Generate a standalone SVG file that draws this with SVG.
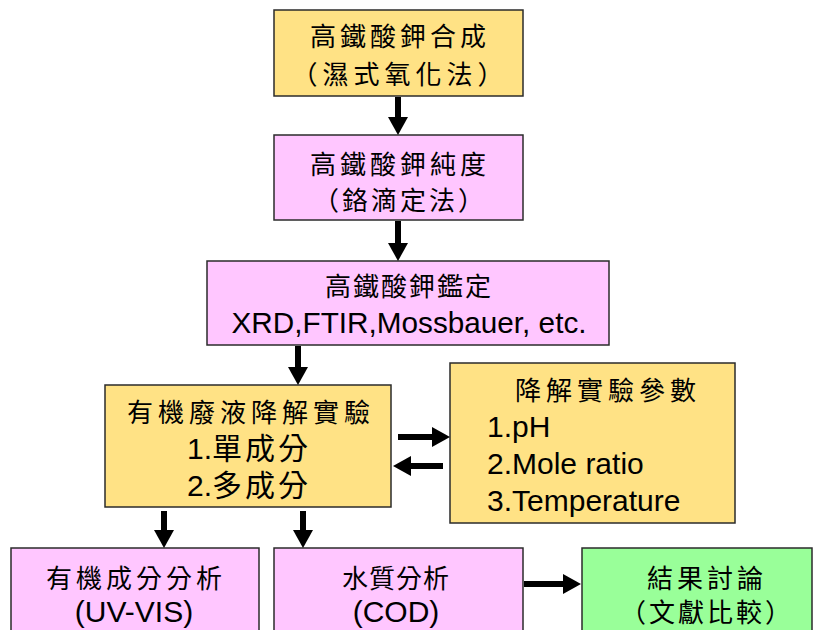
<svg xmlns="http://www.w3.org/2000/svg" width="822" height="630" viewBox="0 0 822 630">
  <style>
    .box { stroke: #2b2b2b; stroke-width: 1.5; }
    .yellow { fill: #FFE285; }
    .pink { fill: #FFC6FF; }
    .green { fill: #99FF99; }
    .cjk { font-family: "Noto Sans CJK TC", "Noto Sans CJK SC", sans-serif; font-size: 26px; fill: #000; text-anchor: middle; }
    .lat { font-family: "Liberation Sans", "Noto Sans CJK TC", sans-serif; font-size: 30px; fill: #000; }
    .mid { text-anchor: middle; }
    .arrow { stroke: #000; stroke-width: 6; fill: none; }
  </style>
  <defs>
    <marker id="head" markerUnits="userSpaceOnUse" markerWidth="18" markerHeight="20" refX="0" refY="10" orient="auto">
      <path d="M0,0 L18,10 L0,20 z" fill="#000"/>
    </marker>
  </defs>

  <rect width="822" height="630" fill="#fff"/>

  <g id="synthesis">
    <rect class="box yellow" x="274" y="10" width="249" height="86"/>
    <text class="cjk" x="400" y="46" letter-spacing="4">高鐵酸鉀合成</text>
    <text class="cjk" x="400" y="84" letter-spacing="5">（濕式氧化法）</text>
  </g>

  <g id="purity">
    <rect class="box pink" x="274" y="135" width="249" height="85"/>
    <text class="cjk" x="400" y="174" letter-spacing="4">高鐵酸鉀純度</text>
    <text class="cjk" x="400" y="210" letter-spacing="3">（鉻滴定法）</text>
  </g>

  <g id="identification">
    <rect class="box pink" x="207" y="261" width="402" height="84"/>
    <text class="cjk" x="409" y="296" font-size="25" letter-spacing="2">高鐵酸鉀鑑定</text>
    <text class="lat mid" x="409" y="333" textLength="355" lengthAdjust="spacingAndGlyphs">XRD,FTIR,Mossbauer, etc.</text>
  </g>

  <g id="degradation">
    <rect class="box yellow" x="105" y="385" width="286" height="122"/>
    <text class="cjk" x="251" y="422" letter-spacing="5">有機廢液降解實驗</text>
    <text class="lat mid" x="249" y="459"><tspan>1.</tspan><tspan letter-spacing="3">單成分</tspan></text>
    <text class="lat mid" x="249" y="496"><tspan>2.</tspan><tspan letter-spacing="3">多成分</tspan></text>
  </g>

  <g id="parameters">
    <rect class="box yellow" x="450" y="363" width="285" height="160"/>
    <text class="cjk" x="608" y="400" letter-spacing="5">降解實驗參數</text>
    <text class="lat" x="487" y="437">1.pH</text>
    <text class="lat" x="487" y="474">2.Mole ratio</text>
    <text class="lat" x="487" y="511">3.Temperature</text>
  </g>

  <g id="organic-analysis">
    <rect class="box pink" x="11" y="548" width="248" height="90"/>
    <text class="cjk" x="136" y="588" letter-spacing="4">有機成分分析</text>
    <text class="lat mid" x="134" y="622">(UV-VIS)</text>
  </g>

  <g id="water-quality">
    <rect class="box pink" x="274" y="548" width="249" height="90"/>
    <text class="cjk" x="396" y="588" letter-spacing="1">水質分析</text>
    <text class="lat mid" x="396" y="622">(COD)</text>
  </g>

  <g id="discussion">
    <rect class="box green" x="582" y="548" width="230" height="90"/>
    <text class="cjk" x="707" y="588" letter-spacing="4">結果討論</text>
    <text class="cjk" x="707" y="622" letter-spacing="3">（文獻比較）</text>
  </g>

  <g id="connectors">
    <line class="arrow" x1="398" y1="97" x2="398" y2="117" marker-end="url(#head)"/>
    <line class="arrow" x1="398" y1="221" x2="398" y2="243" marker-end="url(#head)"/>
    <line class="arrow" x1="298" y1="346" x2="298" y2="367" marker-end="url(#head)"/>
    <line class="arrow" x1="398" y1="437" x2="432" y2="437" marker-end="url(#head)"/>
    <line class="arrow" x1="443" y1="466" x2="411" y2="466" marker-end="url(#head)"/>
    <line class="arrow" x1="164" y1="511" x2="164" y2="530" marker-end="url(#head)"/>
    <line class="arrow" x1="303" y1="511" x2="303" y2="530" marker-end="url(#head)"/>
    <line class="arrow" x1="524" y1="584" x2="563" y2="584" stroke-width="7" marker-end="url(#head)"/>
  </g>
</svg>
